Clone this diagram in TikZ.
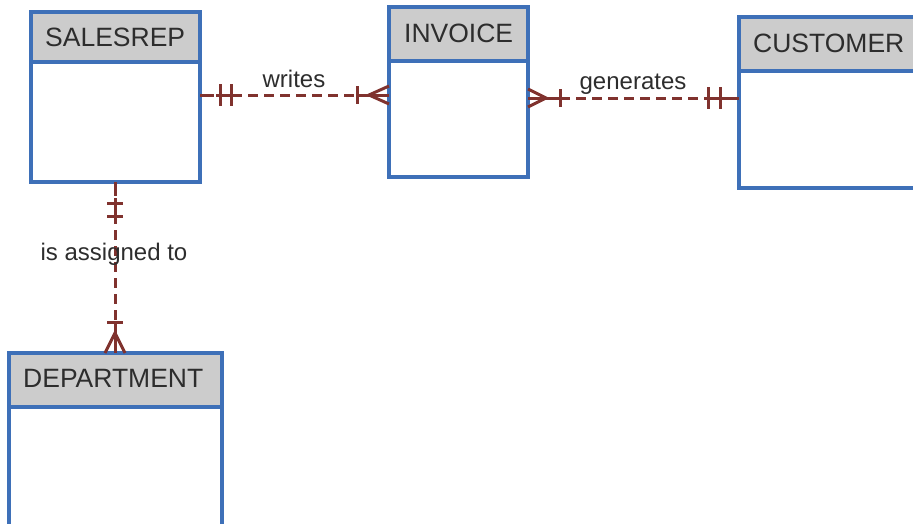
\documentclass[tikz,border=0pt]{standalone}
\usepackage{fontspec}
\setmainfont{Liberation Sans}
\definecolor{ebord}{RGB}{62,112,184}
\definecolor{ehead}{RGB}{204,204,204}
\definecolor{relc}{RGB}{128,50,46}
\definecolor{txtc}{RGB}{45,45,45}
\begin{document}
\begin{tikzpicture}[x=1pt,y=-1pt,
  entbody/.style={draw=ebord,line width=3.2pt,fill=white,inner sep=0pt,outer sep=0pt,anchor=north west},
  enthead/.style={draw=ebord,line width=3.2pt,fill=ehead,inner sep=0pt,outer sep=0pt,anchor=north west},
  enttext/.style={font=\fontsize{26.5}{30}\selectfont,text=txtc,inner sep=0pt,anchor=base west},
  rellabel/.style={font=\fontsize{24}{28}\selectfont,text=txtc,inner sep=0pt,anchor=base},
  relline/.style={draw=relc,line width=3pt,dash pattern=on 10pt off 6pt},
  relmark/.style={draw=relc,line width=3pt}]
\useasboundingbox (0,0) rectangle (913,523);
\clip (0,0) rectangle (913,523);
% SALESREP
\node[entbody,minimum width=169,minimum height=170] (sales) at (31,12) {};
\node[enthead,minimum width=169,minimum height=50] (salesh) at (31,12) {};
\node[enttext] (salest) at (45,46) {SALESREP};
% INVOICE
\node[entbody,minimum width=139,minimum height=170] (inv) at (389,7) {};
\node[enthead,minimum width=139,minimum height=54] (invh) at (389,7) {};
\node[enttext] (invt) at (404,42) {INVOICE};
% CUSTOMER
\node[entbody,minimum width=200,minimum height=171] (cust) at (739,17) {};
\node[enthead,minimum width=200,minimum height=54] (custh) at (739,17) {};
\node[enttext] (custt) at (753,52) {CUSTOMER};
% DEPARTMENT
\node[entbody,minimum width=213,minimum height=200] (dept) at (9,353) {};
\node[enthead,minimum width=213,minimum height=54] (depth) at (9,353) {};
\node[enttext] (deptt) at (23,387) {DEPARTMENT};

% writes: SALESREP -- INVOICE
\coordinate (w1) at (sales.east |- 0,95);
\coordinate (w2) at (inv.west |- 0,95);
\draw[relline] (w1) -- (w2);
\draw[relmark] (w1) -- ++(14,0);
\draw[relmark] (w1) ++(20,-11) -- ++(0,22);
\draw[relmark] (w1) ++(31,-11) -- ++(0,22);
\draw[relmark] (w1) ++(20,0) -- ++(11,0);
\draw[relmark] (w2) ++(-32,-9) -- ++(0,18);
\draw[relmark] (w2) ++(-32,0) -- (w2);
\draw[relmark] (w2) ++(0,-9) -- ++(-20,9) -- ++(20,9);
\node[rellabel] (wl) at (294,87) {writes};

% generates: INVOICE -- CUSTOMER
\coordinate (g1) at (inv.east |- 0,98);
\coordinate (g2) at (cust.west |- 0,98);
\draw[relline] (g1) -- (g2);
\draw[relmark] (g1) -- ++(32,0);
\draw[relmark] (g1) ++(0,-9) -- ++(18,9) -- ++(-18,9);
\draw[relmark] (g1) ++(32,-9) -- ++(0,18);
\draw[relmark] (g2) -- ++(-14,0);
\draw[relmark] (g2) ++(-19,-11) -- ++(0,22);
\draw[relmark] (g2) ++(-31,-11) -- ++(0,22);
\draw[relmark] (g2) ++(-19,0) -- ++(-12,0);
\node[rellabel] (gl) at (633,89) {generates};

% is assigned to: SALESREP -- DEPARTMENT
\coordinate (a1) at (sales.south -| 115,0);
\coordinate (a2) at (dept.north -| 115,0);
\draw[relline] (a1) -- (a2);
\draw[relmark] (a1) -- ++(0,14);
\draw[relmark] (a1) ++(-8,21) -- ++(16,0);
\draw[relmark] (a1) ++(-8,34) -- ++(16,0);
\draw[relmark] (a1) ++(0,21) -- ++(0,13);
\draw[relmark] (a2) ++(-8,-31) -- ++(16,0);
\draw[relmark] (a2) ++(0,-31) -- (a2);
\draw[relmark] (a2) ++(-10,0) -- ++(10,-20) -- ++(10,20);
\node[rellabel] (al) at (114,260) {is assigned to};
\end{tikzpicture}
\end{document}
